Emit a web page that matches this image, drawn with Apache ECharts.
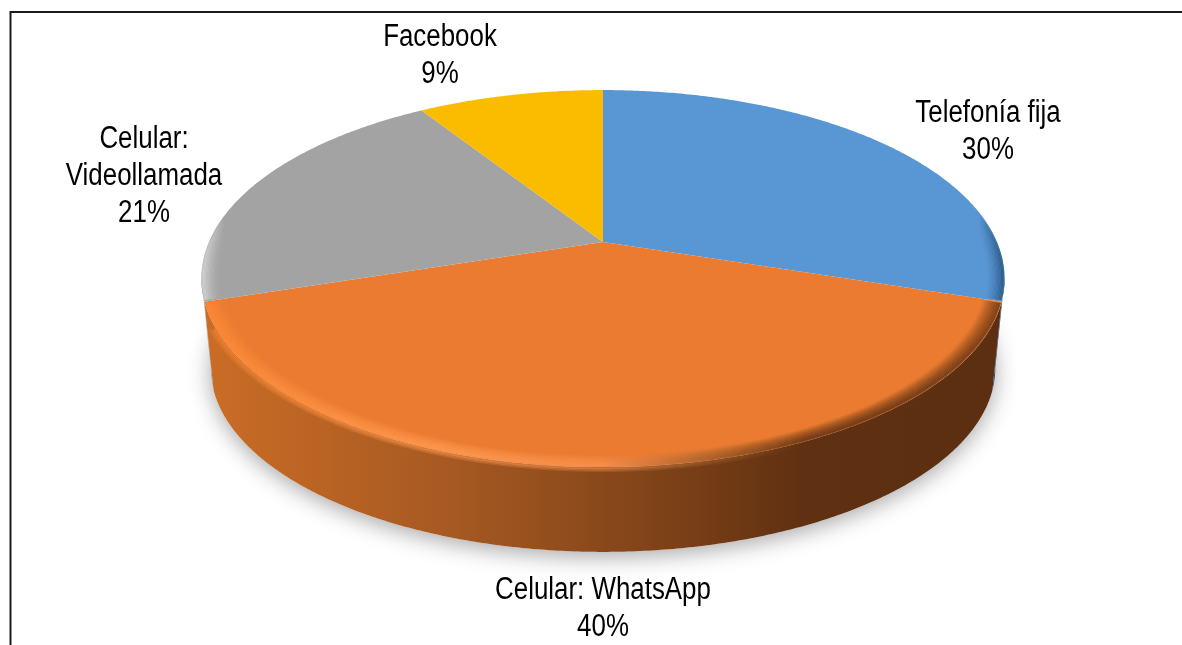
<!DOCTYPE html>
<html>
<head>
<meta charset="utf-8">
<style>html,body{margin:0;padding:0;background:#fff;overflow:hidden}#c{width:1182px;height:645px}</style>
<script src="https://cdn.jsdelivr.net/npm/echarts@6/dist/echarts.min.js"></script>
</head>
<body>
<div id="c"></div>
<script>
// data
const categories = ['Telefonía fija', 'Celular: WhatsApp', 'Celular:\nVideollamada', 'Facebook'];
const values = [30, 40, 21, 9];
// styles
const topColors = ['#5997D4', '#EA7B30', '#A3A3A3', '#FBBC00'];
const sideStops = [
  [[0, '#2f5f8c'], [1, '#2a5580']],
  [[0, '#cb6d26'], [0.3, '#a85a22'], [0.55, '#824419'], [0.75, '#5f3011'], [1, '#5c2f12']],
  [[0, '#a8adb0'], [1, '#a0a4a6']],
  [[0, '#c09000'], [1, '#c09000']]
];
const rimStops = [
  [[0.965, 'rgba(30,75,115,0)'], [1, 'rgba(30,70,110,1)']],
  [[0, '#ff8a36'], [0.3, '#ff9a52'], [0.5, '#f79050'], [0.62, '#a8622c'], [0.75, '#5f3011'], [1, '#5f3011']],
  [[0, 'rgba(225,225,225,1)'], [0.03, 'rgba(225,225,225,0)'], [1, 'rgba(225,225,225,0)']],
  [[0, 'rgba(0,0,0,0)'], [1, 'rgba(0,0,0,0)']]
];
// label placement (centre x, first-line centre y)
const labelAnchors = [[988, 113], [603, 590], [144, 139], [440, 37]];
// projection of the pie's disc
const CX = 603, APEX_Y = 242, K = -0.194, C = 394, B = 181.4;
const BASE_SCALE = 0.977, BASE_Y = 332;
const X_LEFT = 200, X_RIGHT = 1006;
const WIDEST = 101; // degrees where the disc silhouette turns

const total = values.reduce((a, b) => a + b, 0);
const starts = values.map((_, i) => values.slice(0, i).reduce((a, b) => a + b, 0));

function project(deg, r, base) {
  const t = deg * Math.PI / 180, u = Math.sin(t) * r, v = -Math.cos(t) * r, w = 1 + K * v;
  const s = base ? BASE_SCALE : 1;
  return [CX + C * s * u / w, (base ? BASE_Y : APEX_Y) + B * s * v / w];
}
function arc(a0, a1, r, base) {
  const pts = [], n = Math.max(2, Math.ceil(Math.abs(a1 - a0)) * 2);
  for (let i = 0; i <= n; i++) pts.push(project(a0 + (a1 - a0) * i / n, r, base));
  return pts;
}
const grad = stops => ({
  type: 'linear', x: X_LEFT, y: 0, x2: X_RIGHT, y2: 0, global: true,
  colorStops: stops.map(s => ({ offset: s[0], color: s[1] }))
});

function renderSlice(params, api) {
  const i = params.dataIndex;
  const value = api.value(0), start = api.value(1);
  const a0 = start / total * 360, a1 = (start + value) / total * 360;
  const children = [];

  if (i === 0) {
    children.push({
      type: 'polygon', z2: 0,
      shape: { points: arc(0, 360, 1, true) },
      style: { fill: '#ffffff', shadowColor: 'rgba(0,0,0,0.34)', shadowBlur: 22, shadowOffsetY: 5 }
    });
  }
  // wall: only the part facing the viewer
  const s0 = Math.max(a0, WIDEST), s1 = Math.min(a1, 360 - WIDEST);
  if (s1 > s0) {
    const bottomFrom = a0 <= WIDEST && a1 > WIDEST ? WIDEST : a0;
    const bottomTo = a1 >= 360 - WIDEST && a0 < 360 - WIDEST ? 360 - WIDEST : a1;
    children.push({
      type: 'polygon', z2: 1 + (i === 1 ? 1 : 0),
      shape: { points: arc(s0, s1, 1, false).concat(arc(bottomTo, bottomFrom, 1, true)) },
      style: { fill: grad(sideStops[i]) }
    });
  }
  // top face
  children.push({
    type: 'polygon', z2: 5,
    shape: { points: [[CX, APEX_Y]].concat(arc(a0, a1, 1, false)) },
    style: { fill: topColors[i] }
  });
  // bevel: many faint strokes build a soft edge
  if (i !== 3) {
    const ra0 = i === 0 ? 55 : a0, ra1 = i === 2 ? 295 : a1;
    for (let k = 0; k < 14; k++) {
      const r = 0.958 + k * 0.003;
      children.push({
        type: 'polyline', z2: 6,
        shape: { points: arc(ra0 + 0.4, ra1 - 0.4, r, false) },
        style: { fill: null, stroke: grad(rimStops[i]), lineWidth: 2, opacity: 0.03 + 0.045 * k }
      });
    }
    if (i === 1) {
      [1.004, 1.009, 1.014].forEach((r, k) => {
        children.push({
          type: 'polyline', z2: 6,
          shape: { points: arc(a0 + 8, a1 - 8, r, false) },
          style: { fill: null, stroke: grad(rimStops[i]), lineWidth: 2, opacity: 0.55 - 0.17 * k }
        });
      });
    }
  }
  // label
  const lines = (categories[i] + '\n' + value + '%').split('\n');
  lines.forEach((line, k) => {
    children.push({
      type: 'text', z2: 10,
      x: labelAnchors[i][0], y: labelAnchors[i][1] + k * 37, scaleX: 0.835,
      style: {
        text: line, fill: '#000', align: 'center', verticalAlign: 'middle',
        font: '31px "Liberation Sans", Arial, sans-serif'
      }
    });
  });
  return { type: 'group', children };
}

const chart = echarts.init(document.getElementById('c'), null, { renderer: 'canvas', width: 1182, height: 645 });
chart.setOption({
  animation: false,
  backgroundColor: '#ffffff',
  graphic: [{
    type: 'polyline', z: -1,
    shape: { points: [[10.5, 660], [10.5, 12], [1190, 12]] },
    style: { fill: null, stroke: '#1a1a1a', lineWidth: 2 }
  }],
  series: [{
    type: 'custom',
    coordinateSystem: 'none',
    clip: false,
    silent: true,
    data: values.map((v, i) => [v, starts[i]]),
    renderItem: renderSlice
  }]
});
</script>
</body>
</html>
